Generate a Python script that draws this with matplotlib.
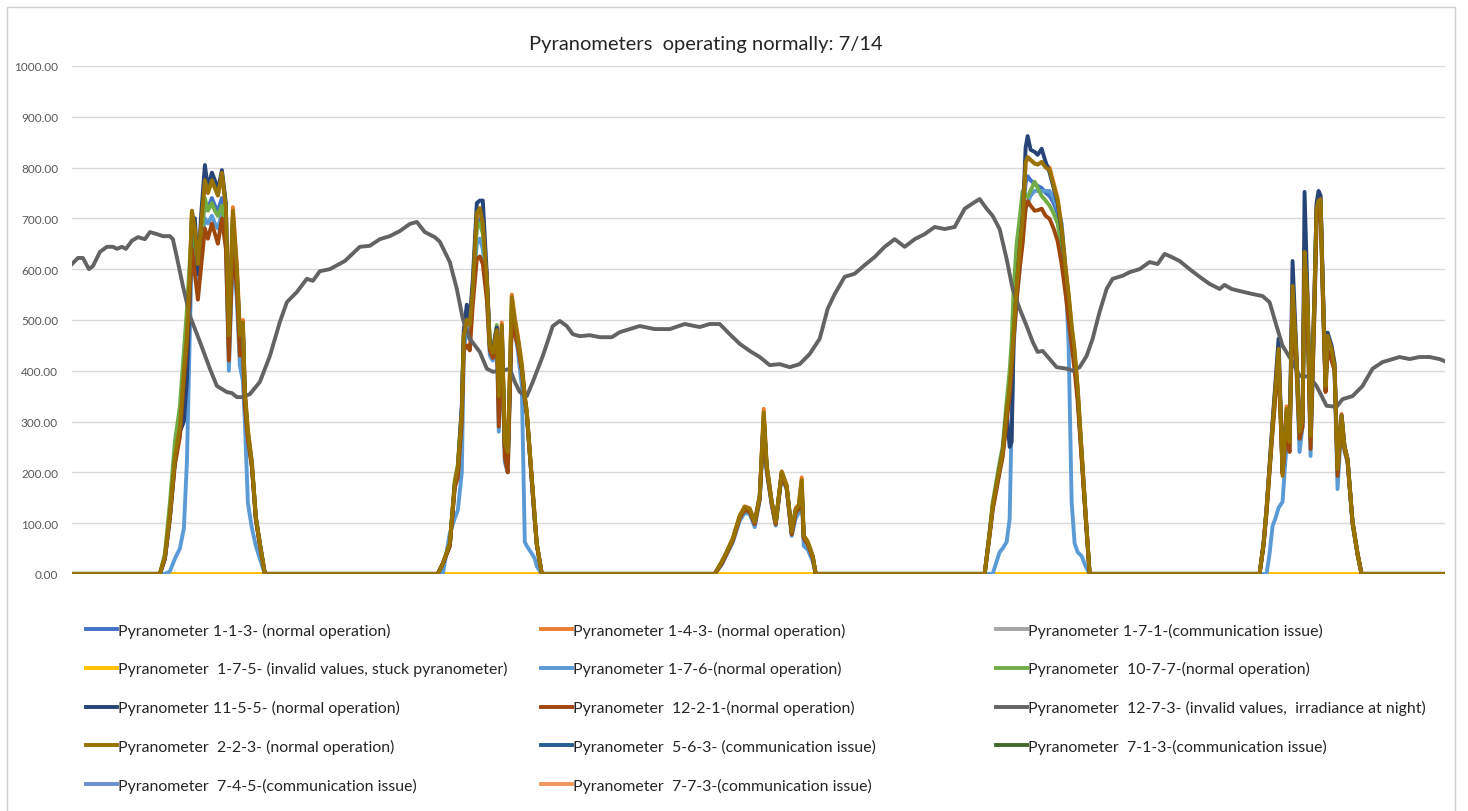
import matplotlib.pyplot as plt
from matplotlib.patches import Rectangle

plt.rcParams['font.family'] = ['Lato', 'DejaVu Sans']

# time axis: sample index (no labels on the chart)
t_end = 1373

# pyranometer 12-7-3, irradiance at night
t_night = [0, 6, 11, 17, 21, 28, 35, 41, 45, 50, 54, 60, 66, 73, 78, 85, 91, 98, 101, 106,
           111, 118, 128, 138, 145, 155, 160, 165, 171, 178, 188, 198, 208, 215, 225, 235, 241, 248,
           258, 273, 288, 298, 308, 318, 328, 338, 345, 353, 363, 368, 378, 385, 391, 398, 408,
           415, 421, 431, 438, 443, 448, 455, 461, 471, 481, 488, 495, 501, 508, 518, 528, 540,
           548, 558, 568, 583, 598, 613, 628, 638, 648, 658, 668, 678, 688, 698, 708, 718, 728,
           738, 748, 756, 763, 773, 783, 793, 803, 813, 823, 833, 843, 853, 863, 873, 883, 893,
           903, 908, 915, 921, 928, 935, 941, 948, 955, 961, 966, 971, 978, 985, 995, 1001, 1008,
           1015, 1021, 1028, 1035, 1041, 1051, 1058, 1068, 1078, 1086, 1093, 1100, 1108, 1118,
           1128, 1138, 1148, 1153, 1160, 1168, 1181, 1191, 1198, 1205, 1211, 1221, 1228, 1238,
           1245, 1255, 1265, 1271, 1281, 1291, 1301, 1311, 1321, 1328, 1338, 1348, 1358, 1368, 1373]
p_12_7_3 = [610, 622, 622, 600, 606, 634, 644, 644, 640, 644, 640, 656, 663, 659, 673, 669, 665, 665, 659, 614,
            567, 508, 457, 404, 370, 358, 356, 348, 348, 354, 378, 429, 496, 535, 555, 581, 577, 596,
            600, 616, 644, 646, 659, 665, 675, 689, 693, 673, 663, 654, 614, 561, 502, 463, 437,
            404, 398, 400, 404, 378, 358, 350, 378, 429, 488, 498, 488, 472, 468, 470, 466, 466,
            476, 482, 488, 482, 482, 492, 486, 492, 492, 472, 453, 439, 427, 411, 413, 407, 413,
            433, 463, 522, 551, 585, 591, 608, 624, 644, 659, 644, 659, 669, 683, 679, 683, 719,
            732, 738, 719, 705, 679, 620, 561, 522, 488, 457, 437, 439, 423, 407, 404, 400, 407,
            429, 463, 516, 561, 581, 587, 594, 600, 614, 610, 630, 624, 616, 600,
            585, 571, 561, 569, 561, 557, 551, 547, 535, 488, 449, 417, 390, 388,
            370, 331, 329, 344, 350, 370, 404, 417, 423, 427, 423, 427, 427, 423, 419]

# daytime samples shared by the working pyranometers (5 days)
t_sun = [0,
         88, 93, 98, 103, 108, 112, 115, 118, 120, 123, 126, 129, 133, 136, 140, 143, 146, 150, 154,
         157, 161, 165, 168, 171, 173, 176, 180, 184, 188, 193,
         366, 371, 378, 383, 386, 390, 392, 395, 398, 401, 405, 408, 411, 415, 418, 421, 425, 427,
         430, 433, 436, 440, 443, 446, 450, 453, 455, 460, 463, 465, 470,
         643, 650, 655, 661, 668, 673, 678, 683, 688, 692, 695, 700, 704, 710, 715, 720, 724, 727,
         730, 732, 736, 741, 744,
         913, 918, 921, 928, 931, 935, 938, 940, 942, 945, 948, 951, 954, 956, 959, 963, 966, 970,
         974, 978, 982, 986, 990, 994, 997, 1000, 1003, 1006, 1010, 1014, 1018,
         1188, 1192, 1195, 1198, 1201, 1204, 1207, 1211, 1213, 1215, 1218, 1221, 1225, 1228, 1231,
         1233, 1236, 1239, 1243, 1245, 1247, 1249, 1251, 1254, 1256, 1260, 1263, 1266, 1270, 1273,
         1276, 1281, 1286, 1290,
         1373]

p_2_2_3 = [0,
           0, 35, 120, 230, 290, 400, 470, 600, 715, 680, 610, 680, 775, 750, 775, 760, 745, 790, 720,
           470, 715, 600, 470, 495, 360, 280, 220, 110, 60, 0,
           0, 20, 60, 180, 210, 320, 470, 500, 490, 560, 710, 720, 690, 580, 450, 435, 480, 350,
           490, 260, 240, 545, 500, 465, 410, 350, 320, 190, 110, 60, 0,
           0, 24, 43, 69, 114, 132, 128, 102, 154, 318, 213, 142, 102, 201, 173, 83, 128, 134,
           185, 75, 63, 35, 0,
           0, 80, 134, 210, 240, 320, 370, 420, 480, 567, 640, 699, 810, 821, 815, 808, 806, 811,
           800, 795, 765, 735, 680, 600, 550, 490, 440, 370, 240, 120, 0,
           0, 60, 128, 210, 291, 370, 443, 193, 260, 325, 260, 567, 423, 280, 305,
           634, 541, 272, 555, 719, 735, 738, 587, 370, 469, 443, 409, 207, 311, 250,
           226, 102, 40, 0,
           0]

p_11_5_5 = [0,
            0, 30, 110, 220, 280, 300, 380, 550, 700, 700, 590, 700, 805, 760, 790, 775, 755, 795, 730,
            460, 700, 590, 470, 490, 350, 275, 215, 110, 60, 0,
            0, 20, 55, 175, 205, 330, 480, 530, 500, 580, 730, 735, 735, 590, 450, 440, 485, 340,
            485, 250, 230, 500, 480, 460, 405, 345, 315, 185, 105, 58, 0,
            0, 22, 42, 67, 112, 128, 124, 100, 150, 305, 208, 140, 100, 198, 170, 80, 124, 130,
            170, 72, 60, 33, 0,
            0, 80, 130, 210, 240, 320, 250, 260, 470, 560, 640, 700, 840, 862, 835, 831, 825, 837,
            811, 790, 760, 730, 675, 595, 540, 475, 425, 355, 235, 115, 0,
            0, 60, 130, 215, 300, 380, 463, 200, 255, 320, 265, 616, 430, 280, 300,
            752, 545, 270, 560, 730, 754, 745, 590, 375, 475, 450, 415, 210, 312, 250,
            226, 102, 40, 0,
            0]

p_12_2_1 = [0,
            0, 30, 110, 215, 270, 380, 450, 560, 640, 590, 540, 600, 680, 660, 690, 670, 650, 700, 640,
            420, 650, 560, 430, 440, 330, 265, 210, 105, 55, 0,
            0, 20, 55, 170, 190, 300, 440, 450, 440, 530, 620, 625, 610, 540, 440, 425, 470, 290,
            470, 230, 200, 500, 470, 450, 400, 345, 315, 185, 105, 58, 0,
            0, 20, 40, 65, 110, 126, 122, 98, 148, 300, 205, 138, 98, 196, 168, 78, 120, 128,
            165, 70, 58, 32, 0,
            0, 75, 125, 200, 230, 300, 350, 400, 460, 540, 600, 650, 720, 734, 725, 715, 716, 719,
            705, 699, 680, 655, 610, 550, 500, 450, 400, 340, 225, 110, 0,
            0, 55, 120, 200, 280, 350, 420, 197, 240, 300, 240, 530, 400, 266, 290,
            600, 500, 246, 520, 690, 720, 725, 560, 358, 440, 420, 400, 193, 300, 245,
            222, 100, 38, 0,
            0]

p_10_7_7 = [0,
            0, 40, 140, 260, 330, 440, 520, 620, 680, 640, 600, 650, 740, 715, 730, 715, 705, 725, 680,
            450, 690, 590, 460, 480, 350, 275, 215, 110, 58, 0,
            0, 20, 60, 185, 215, 330, 480, 500, 490, 570, 680, 690, 670, 580, 460, 440, 490, 330,
            480, 250, 225, 530, 490, 460, 405, 345, 315, 185, 105, 58, 0,
            0, 22, 42, 68, 113, 130, 126, 101, 152, 310, 210, 140, 100, 199, 171, 81, 125, 132,
            175, 73, 61, 34, 0,
            0, 85, 140, 220, 250, 340, 400, 460, 560, 650, 700, 754, 745, 742, 755, 772, 760, 744,
            735, 725, 710, 690, 640, 570, 520, 465, 415, 350, 232, 115, 0,
            0, 58, 125, 205, 285, 360, 430, 215, 255, 315, 255, 550, 410, 270, 300,
            620, 520, 260, 540, 710, 730, 735, 575, 365, 460, 440, 405, 205, 308, 248,
            224, 101, 39, 0,
            0]

p_1_7_6 = [0,
           0, 0, 5, 30, 50, 90, 220, 480, 650, 620, 560, 640, 700, 690, 705, 690, 680, 710, 650,
           400, 640, 540, 410, 380, 300, 140, 90, 55, 30, 0,
           0, 0, 80, 110, 125, 200, 450, 470, 480, 550, 650, 660, 640, 560, 430, 420, 470, 280,
           470, 220, 200, 520, 480, 440, 370, 63, 55, 40, 30, 15, 0,
           0, 18, 38, 62, 105, 120, 118, 92, 145, 300, 200, 135, 95, 195, 165, 75, 110, 120,
           160, 55, 48, 25, 0,
           0, 0, 0, 43, 50, 63, 108, 300, 450, 540, 600, 680, 719, 730, 745, 754, 754, 754,
           754, 754, 740, 720, 690, 590, 450, 142, 60, 43, 35, 15, 0,
           0, 0, 0, 40, 94, 110, 130, 142, 200, 252, 250, 540, 400, 240, 290,
           620, 520, 232, 530, 700, 730, 735, 570, 360, 455, 430, 400, 167, 300, 240,
           220, 98, 38, 0,
           0]

p_1_1_3 = [0,
           0, 30, 115, 225, 285, 350, 460, 580, 690, 660, 590, 670, 730, 720, 740, 725, 715, 740, 690,
           440, 670, 570, 450, 470, 340, 270, 212, 108, 58, 0,
           0, 20, 58, 178, 205, 320, 470, 500, 490, 560, 690, 700, 680, 575, 450, 435, 480, 330,
           485, 250, 225, 520, 490, 455, 405, 345, 315, 185, 105, 58, 0,
           0, 22, 41, 66, 110, 127, 124, 99, 150, 308, 208, 139, 99, 197, 170, 80, 124, 130,
           172, 72, 60, 33, 0,
           0, 80, 130, 205, 235, 315, 360, 410, 470, 560, 640, 700, 770, 783, 775, 768, 764, 760,
           750, 744, 730, 710, 660, 585, 530, 470, 420, 355, 235, 115, 0,
           0, 58, 125, 205, 288, 365, 435, 200, 255, 320, 258, 555, 415, 275, 300,
           625, 530, 265, 545, 715, 733, 737, 580, 368, 465, 440, 405, 205, 309, 249,
           225, 101, 39, 0,
           0]

p_1_4_3 = [0,
           0, 35, 120, 230, 290, 400, 470, 600, 715, 675, 605, 680, 775, 750, 775, 760, 745, 790, 720,
           470, 722, 610, 480, 500, 360, 285, 220, 112, 60, 0,
           0, 20, 60, 180, 210, 320, 470, 500, 490, 560, 710, 720, 690, 585, 450, 440, 485, 350,
           495, 260, 245, 550, 505, 470, 415, 352, 320, 190, 110, 60, 0,
           0, 24, 44, 70, 115, 133, 129, 103, 155, 325, 215, 143, 103, 202, 175, 84, 130, 136,
           190, 76, 64, 36, 0,
           0, 80, 134, 210, 240, 320, 370, 420, 480, 567, 640, 699, 810, 818, 815, 808, 806, 811,
           805, 800, 770, 740, 685, 605, 550, 485, 435, 365, 242, 122, 0,
           0, 62, 130, 212, 295, 372, 445, 200, 265, 330, 265, 570, 425, 285, 310,
           640, 545, 280, 560, 725, 740, 742, 590, 375, 470, 445, 412, 210, 315, 252,
           228, 104, 41, 0,
           0]

# stuck pyranometer: always 0
t_stuck = [0, 1373]
p_1_7_5 = [0, 0]

labels = ['Pyranometer 1-1-3- (normal operation)',
          'Pyranometer 1-4-3- (normal operation)',
          'Pyranometer 1-7-1-(communication issue)',
          'Pyranometer  1-7-5- (invalid values, stuck pyranometer)',
          'Pyranometer 1-7-6-(normal operation)',
          'Pyranometer  10-7-7-(normal operation)',
          'Pyranometer 11-5-5- (normal operation)',
          'Pyranometer  12-2-1-(normal operation)',
          'Pyranometer  12-7-3- (invalid values,  irradiance at night)',
          'Pyranometer  2-2-3- (normal operation)',
          'Pyranometer  5-6-3- (communication issue)',
          'Pyranometer  7-1-3-(communication issue)',
          'Pyranometer  7-4-5-(communication issue)',
          'Pyranometer  7-7-3-(communication issue)']
colors = ['#4472C4', '#ED7D31', '#A5A5A5', '#FFC000', '#5B9BD5', '#70AD47', '#264478',
          '#9E480E', '#636363', '#997300', '#255E91', '#43682B', '#698ED0', '#F1975A']

series = [(t_sun, p_1_1_3), (t_sun, p_1_4_3), ([], []), (t_stuck, p_1_7_5),
          (t_sun, p_1_7_6), (t_sun, p_10_7_7), (t_sun, p_11_5_5), (t_sun, p_12_2_1),
          (t_night, p_12_7_3), (t_sun, p_2_2_3), ([], []), ([], []), ([], []), ([], [])]

fig = plt.figure(figsize=(14.68, 8.12), dpi=100)
ax = fig.add_axes([0.049, 0.292, 0.935, 0.6255])

handles = []
for (x, y), c, lab in zip(series, colors, labels):
    h, = ax.plot(x, y, color=c, lw=2.8, label=lab, solid_joinstyle='round')
    handles.append(h)

ax.set_xlim(0, t_end)
ax.set_ylim(0, 1000)
ax.set_yticks(range(0, 1001, 100))
ax.set_yticklabels(['%.2f' % v for v in range(0, 1001, 100)])
ax.set_xticks([])
ax.tick_params(axis='y', length=0, labelsize=8.5, labelcolor='#595959', pad=10)
ax.grid(axis='y', color='#D9D9D9', lw=1)
ax.set_axisbelow(True)
for s in ['top', 'right', 'left', 'bottom']:
    ax.spines[s].set_visible(False)

fig.text(0.481, 0.945, 'Pyranometers  operating normally: 7/14', ha='center', va='center',
         fontsize=14.5, color='#262626')

# legend: three columns, row-wise order like Excel
col_x = [0.054, 0.364, 0.674]
for k in range(3):
    hs = handles[k::3]
    leg = fig.legend(handles=hs, labels=[h.get_label() for h in hs],
                     loc='upper left', bbox_to_anchor=(col_x[k], 0.240), frameon=False,
                     fontsize=11.4, handlelength=2.0, handletextpad=0.05,
                     labelspacing=1.5, borderaxespad=0)
    for txt in leg.get_texts():
        txt.set_color('#262626')

fig.patches.append(Rectangle((0.005, -0.01), 0.986, 1.0, transform=fig.transFigure,
                             fill=False, edgecolor='#D0D0D0', lw=1))

fig.savefig('out.png', dpi=100)
